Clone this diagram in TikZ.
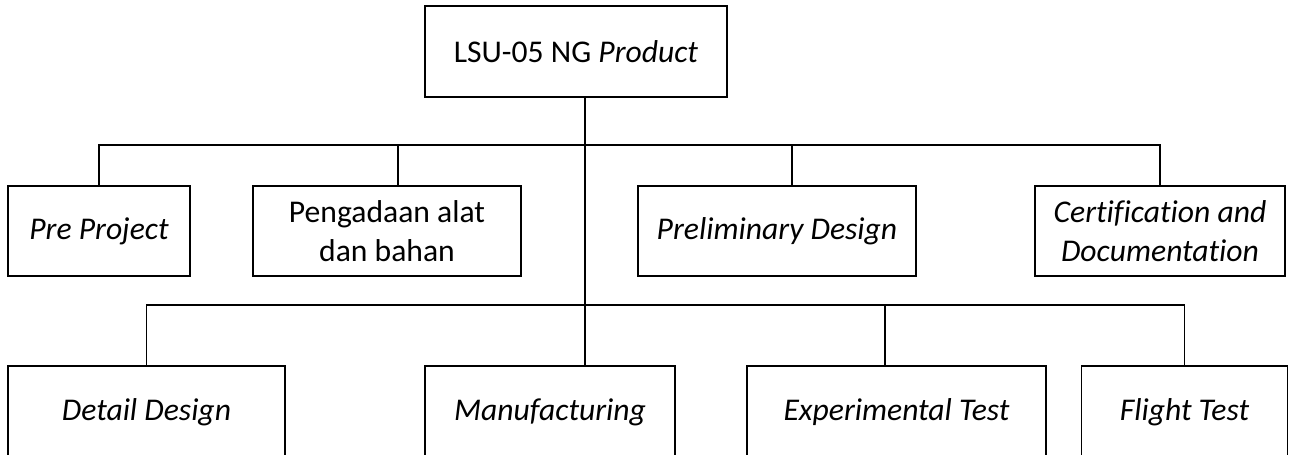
\documentclass[tikz,border=0pt]{standalone}
\usepackage{fontspec}
\setmainfont[Ligatures={NoCommon}]{Carlito}
\begin{document}
\begin{tikzpicture}[x=0.02cm,y=-0.02cm,
  box/.style={draw,line width=0.9pt,align=center,inner sep=0pt,font=\fontsize{18}{22.5}\selectfont},
  conn/.style={line width=0.9pt}]
\useasboundingbox (0,0) rectangle (1291,454);
\clip (0,0) rectangle (1291,454);
% top
\node[box,minimum width=302*0.02cm,minimum height=91*0.02cm] (top) at (576,51.5) {LSU-05 NG \textit{Product}};
% row 1
\node[box,minimum width=182*0.02cm,minimum height=90*0.02cm] (pre) at (99,231) {\textit{Pre Project}};
\node[box,minimum width=268*0.02cm,minimum height=90*0.02cm] (peng) at (387,231) {Pengadaan alat\\dan bahan};
\node[box,minimum width=278*0.02cm,minimum height=90*0.02cm] (prelim) at (777,231) {\textit{Preliminary Design}};
\node[box,minimum width=250*0.02cm,minimum height=90*0.02cm] (cert) at (1160,231) {\textit{Certification and}\\\textit{Documentation}};
% row 2
\node[box,minimum width=277*0.02cm,minimum height=92*0.02cm] (detail) at (146.5,412) {\textit{Detail Design}};
\node[box,minimum width=250*0.02cm,minimum height=92*0.02cm] (manuf) at (550,412) {\textit{Manufacturing}};
\node[box,minimum width=299*0.02cm,minimum height=92*0.02cm] (exper) at (896.5,412) {\textit{Experimental Test}};
\node[box,minimum width=206*0.02cm,minimum height=92*0.02cm] (flight) at (1184.5,412) {\textit{Flight Test}};
% bus coordinates
\coordinate (bus1) at (585,145);
\coordinate (bus2) at (585,305);
\coordinate (dpeng) at (398,145);
\coordinate (dprelim) at (792,145);
\coordinate (dexper) at (885,305);
% connectors
\draw[conn] (top.south -| bus1) -- (manuf.north -| bus1);
\draw[conn] (pre.north) |- (cert.north |- bus1) -- (cert.north);
\draw[conn] (dpeng) -- (peng.north -| dpeng);
\draw[conn] (dprelim) -- (prelim.north -| dprelim);
\draw[conn] (detail.north) |- (flight.north |- bus2) -- (flight.north);
\draw[conn] (dexper) -- (exper.north -| dexper);
\end{tikzpicture}
\end{document}
